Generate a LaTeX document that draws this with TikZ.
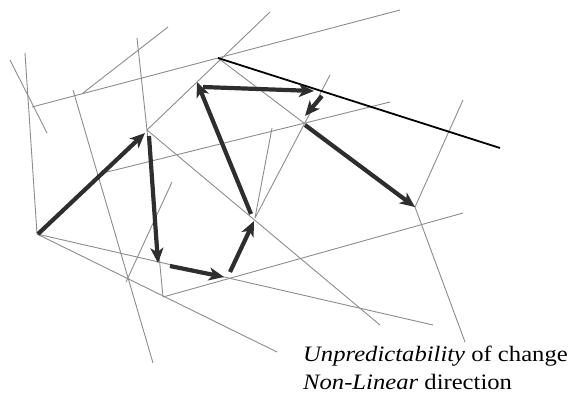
\documentclass[tikz,border=0pt]{standalone}
\usepackage{fontspec}
\setmainfont{Liberation Serif}
\usetikzlibrary{arrows.meta}
\definecolor{thin}{HTML}{8C8C8C}
\definecolor{thick}{HTML}{2E2E2E}
\tikzset{
  thinline/.style={draw=thin, line width=0.9pt},
  bigarrow/.style={draw=thick, line width=4.2pt, -{Stealth[length=15pt,width=13pt,inset=4pt]}},
  blackline/.style={draw=black, line width=1.8pt},
  caption/.style={anchor=base west, inner sep=0pt, font=\fontsize{22}{26}\selectfont}
}
\begin{document}
\begin{tikzpicture}[x=1pt,y=-1pt]
\useasboundingbox (0,0) rectangle (572,394);
% vertices
\coordinate (A) at (37,234);
\coordinate (B) at (147,130);
\coordinate (Cp) at (163,297);
\coordinate (D) at (229,278);
\coordinate (E) at (255,218);
\coordinate (F) at (199,85);
\coordinate (G) at (303,122);
\coordinate (H) at (415,207);
\coordinate (K) at (218,58);
% free ends of thin lines
\coordinate (l1a) at (10,60);   \coordinate (l1b) at (47,133);
\coordinate (l2a) at (25,53);
\coordinate (l3a) at (32,107);  \coordinate (l3b) at (400,10);
\coordinate (l4a) at (83,93);   \coordinate (l4b) at (168,27);
\coordinate (l5a) at (73,90);   \coordinate (l5b) at (153,363);
\coordinate (l6a) at (137,38);
\coordinate (l7b) at (270,12);
\coordinate (l8b) at (380,325);
\coordinate (l9b) at (433,325);
\coordinate (l10b) at (277,352);
\coordinate (l11b) at (463,213);
\coordinate (l13a) at (126,282); \coordinate (l13b) at (172,182);
\coordinate (l14b) at (272,128);
\coordinate (l15b) at (330,75);
\coordinate (l16a) at (103,173); \coordinate (l16b) at (390,102);
\coordinate (l18a) at (463,100); \coordinate (l18b) at (465,342);
\coordinate (blk) at (500,148);
% thin lines
\draw[thinline] (l1a) -- (l1b);
\draw[thinline] (l2a) -- (A);
\draw[thinline] (l3a) -- (l3b);
\draw[thinline] (l4a) -- (l4b);
\draw[thinline] (l5a) -- (l5b);
\draw[thinline] (l6a) -- (B);
\draw[thinline] (B) -- (l7b);
\draw[thinline] (B) -- (l8b);
\draw[thinline] (A) -- (l9b);
\draw[thinline] (A) -- (l10b);
\draw[thinline] (Cp) -- (l11b);
\draw[thinline] (B) -- (Cp);
\draw[thinline] (l13a) -- (l13b);
\draw[thinline] (E) -- (l14b);
\draw[thinline] (E) -- (l15b);
\draw[thinline] (l16a) -- (l16b);
\draw[thinline] (K) -- (H);
\draw[thinline] (l18a) -- (H) -- (l18b);
% black line
\draw[blackline] (K) -- (blk);
% arrow end points
\coordinate (a1s) at (38,234);  \coordinate (a1e) at (145,133);
\coordinate (a2s) at (149,136); \coordinate (a2e) at (158,263);
\coordinate (a3s) at (170,266); \coordinate (a3e) at (224,277);
\coordinate (a4s) at (230,272); \coordinate (a4e) at (254,221);
\coordinate (a5s) at (251,214); \coordinate (a5e) at (197,82);
\coordinate (a6s) at (203,87);  \coordinate (a6e) at (314,91);
\coordinate (a7s) at (322,96);  \coordinate (a7e) at (305,116);
\coordinate (a8s) at (305,125); \coordinate (a8e) at (415,207);
\draw[bigarrow] (a1s) -- (a1e);
\draw[bigarrow] (a2s) -- (a2e);
\draw[bigarrow] (a3s) -- (a3e);
\draw[bigarrow] (a4s) -- (a4e);
\draw[bigarrow] (a5s) -- (a5e);
\draw[bigarrow] (a6s) -- (a6e);
\draw[bigarrow] (a7s) -- (a7e);
\draw[bigarrow] (a8s) -- (a8e);
% caption
\node[caption] (t1) at (303,361) {\scalebox{1.12}[1]{\textit{Unpredictability} of change}};
\node[caption] (t2) at (303,389) {\scalebox{1.12}[1]{\textit{Non-Linear} direction}};
\end{tikzpicture}
\end{document}
